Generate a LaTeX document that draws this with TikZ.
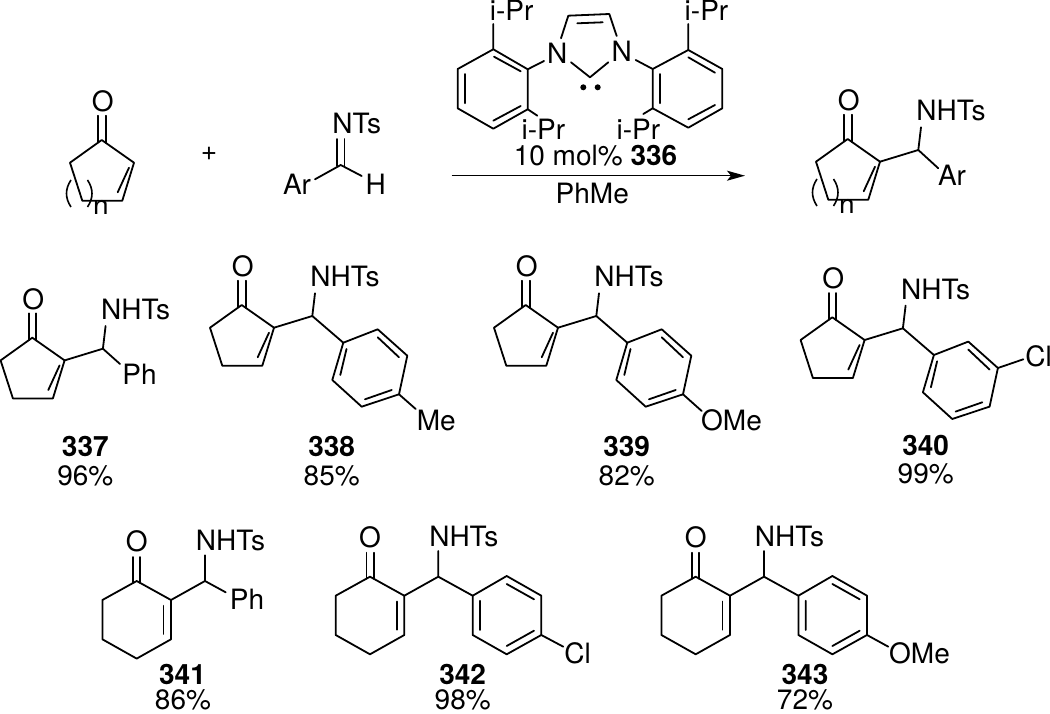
\documentclass[tikz,border=0pt]{standalone}
\usepackage{fontspec}
\setmainfont{TeX Gyre Heros}
\usetikzlibrary{arrows.meta}
\newcommand{\chemfont}{\fontsize{28}{30}\selectfont}
\tikzset{
  bond/.style={line width=1.8pt,line join=round,line cap=round},
  atom/.style={inner sep=0pt,outer sep=0pt,anchor=base,font=\chemfont},
  lonepair/.style={circle,fill=black,inner sep=0pt,minimum size=6pt},
}
% five-membered enone, local frame of 338
\newcommand{\fivering}{%
  \coordinate (c1) at (241.7,305);
  \coordinate (c2) at (274,327.7);
  \coordinate (c3) at (262.3,365.7);
  \coordinate (c4) at (222.3,365.7);
  \coordinate (c5) at (210,327.7);
  \coordinate (i1) at (269,332.7);
  \coordinate (i2) at (257.7,357.3);
  \node[atom] (o) at (242.7,276.5) {O};
  \draw[bond] (c1)--(c2)--(c3)--(c4)--(c5)--cycle;
  \draw[bond] (i1)--(i2);
  \draw[bond] (c1) ++(-3.4,2.4) -- ++(0,-26.7);
  \draw[bond] (c1) ++(4.0,2.8) -- ++(0,-27.1);
}
\newcommand{\fivechain}{%
  \coordinate (ch) at (312.3,316);
  \coordinate (ne) at (315,293.3);
  \node[atom] (nhts) at (345,286.7) {NHTs};
  \draw[bond] (c2)--(ch)--(ne);
}
% aryl ring of the cyclopentenone series
\newcommand{\fivearyl}{%
  \coordinate (a1) at (343.3,342.7);
  \coordinate (a2) at (377.7,329.3);
  \coordinate (a3) at (407.3,355.7);
  \coordinate (a4) at (399,394.3);
  \coordinate (a5) at (361.7,406.7);
  \coordinate (a6) at (332.3,380);
  \draw[bond] (ch)--(a1);
  \draw[bond] (a1)--(a2)--(a3)--(a4)--(a5)--(a6)--cycle;
  \coordinate (b1) at (346.5,349);
  \coordinate (b2) at (340.3,375);
  \coordinate (b3) at (377.7,337.3);
  \coordinate (b4) at (399,357.3);
  \coordinate (b5) at (365,399.3);
  \coordinate (b6) at (391.7,390);
  \draw[bond] (b1)--(b2) (b3)--(b4) (b5)--(b6);
}
\newcommand{\nloop}{%
  \coordinate (pa) at (211,345);
  \coordinate (pb) at (211,372);
  \coordinate (pc) at (227.5,345);
  \coordinate (pd) at (227.5,372);
  \draw[line width=1.6pt] (pa) .. controls (205,354) and (205,363) .. (pb);
  \draw[line width=1.6pt] (pc) .. controls (233.5,354) and (233.5,363) .. (pd);
  \begin{scope}
    \clip (225,360) rectangle (255,378.5);
    \node[atom] (nn) at (241,381) {n};
  \end{scope}
}
% six-membered enone, local frame of 342
\newcommand{\sixring}{%
  \coordinate (c1) at (370,576.7);
  \coordinate (c2) at (404.3,595.7);
  \coordinate (c3) at (404.3,635);
  \coordinate (c4) at (370,654.3);
  \coordinate (c5) at (335.7,635);
  \coordinate (c6) at (335.7,595.7);
  \coordinate (i1) at (396.7,601.5);
  \coordinate (i2) at (396.7,629.7);
  \node[atom] (o) at (370,547) {O};
  \draw[bond] (c1)--(c2)--(c3)--(c4)--(c5)--(c6)--cycle;
  \draw[bond] (i1)--(i2);
  \draw[bond] (c1) ++(-3.6,2) -- ++(0,-26);
  \draw[bond] (c1) ++(3.6,2) -- ++(0,-26);
}
\newcommand{\sixchain}{%
  \coordinate (ch) at (438.3,576.7);
  \coordinate (ne) at (438.3,551);
  \node[atom] (nhts) at (463.8,546) {NHTs};
  \draw[bond] (c2)--(ch)--(ne);
}
\newcommand{\sixaryl}{%
  \coordinate (a1) at (472.7,595.7);
  \coordinate (a2) at (506.7,576);
  \coordinate (a3) at (541.3,595.7);
  \coordinate (a4) at (541.3,635);
  \coordinate (a5) at (506.7,654.3);
  \coordinate (a6) at (472.7,635);
  \draw[bond] (ch)--(a1);
  \draw[bond] (a1)--(a2)--(a3)--(a4)--(a5)--(a6)--cycle;
  \coordinate (b1) at (480,600.7);
  \coordinate (b2) at (480,630);
  \coordinate (b3) at (506.7,584);
  \coordinate (b4) at (534,599.3);
  \coordinate (b5) at (506.7,646);
  \coordinate (b6) at (534,630.7);
  \draw[bond] (b1)--(b2) (b3)--(b4) (b5)--(b6);
}
\begin{document}
\begin{tikzpicture}[x=1pt,y=-1pt]
\useasboundingbox (0,0) rectangle (1050,714);

% starting enone
\begin{scope}[shift={(-140,-165)},name prefix=sm-]
  \fivering
  \nloop
\end{scope}

\node[atom] (plus) at (209,161) {+};

% imine
\coordinate (imc) at (340.7,165);
\coordinate (imar) at (315,179.3);
\coordinate (imh) at (361.7,176);
\node[atom] (imn) at (356.8,134) {NTs};
\node[atom] (ar1) at (297,194.3) {Ar};
\node[atom] (h1) at (375.7,194.3) {H};
\draw[bond] (imar)--(imc)--(imh);
\draw[bond] (imc) ++(-3.5,1) -- ++(0,-27);
\draw[bond] (imc) ++(3.8,1) -- ++(0,-27);

% catalyst 336
\coordinate (l1) at (527.7,69.3);
\coordinate (l2) at (493.3,49.3);
\coordinate (l3) at (457.7,69);
\coordinate (l4) at (457.7,108.3);
\coordinate (l5) at (493.3,128.7);
\coordinate (l6) at (527.7,109.3);
\draw[bond] (l1)--(l2)--(l3)--(l4)--(l5)--(l6)--cycle;
\coordinate (li1) at (494,56.7); \coordinate (li2) at (520.7,71.3);
\coordinate (li3) at (465,74); \coordinate (li4) at (465,103.3);
\coordinate (li5) at (493.3,120.7); \coordinate (li6) at (520.7,106);
\draw[bond] (li1)--(li2) (li3)--(li4) (li5)--(li6);
\coordinate (r1) at (652.7,69);
\coordinate (r2) at (688.3,50);
\coordinate (r3) at (722.3,69);
\coordinate (r4) at (722.3,108.3);
\coordinate (r5) at (688.3,127.7);
\coordinate (r6) at (652.7,108.3);
\draw[bond] (r1)--(r2)--(r3)--(r4)--(r5)--(r6)--cycle;
\coordinate (ri1) at (688.3,57.3); \coordinate (ri2) at (715,72.7);
\coordinate (ri3) at (660,74); \coordinate (ri4) at (660,103.3);
\coordinate (ri5) at (688.3,119.3); \coordinate (ri6) at (715,105);
\draw[bond] (ri1)--(ri2) (ri3)--(ri4) (ri5)--(ri6);
\node[atom] (nl) at (557.3,63.3) {N};
\node[atom] (nr) at (621.7,61.7) {N};
\node[atom] (ipr1) at (511.7,21) {i-Pr};
\node[atom] (ipr2) at (706.5,21) {i-Pr};
\node[atom] (ipr3) at (543.3,139.3) {i-Pr};
\node[atom] (ipr4) at (638.3,139.3) {i-Pr};
\coordinate (e1) at (493.3,24);
\coordinate (e2) at (688.3,24);
\coordinate (e3) at (537.3,115.7);
\coordinate (e4) at (643.3,114);
\draw[bond] (l2)--(e1) (r2)--(e2) (l6)--(e3) (r6)--(e4);
\coordinate (e5) at (544,61);
\coordinate (e6) at (635.7,60);
\draw[bond] (l1)--(e5) (r1)--(e6);
\coordinate (im1) at (561,38.3);
\coordinate (im2) at (568.3,15.7);
\coordinate (im3) at (609.3,14);
\coordinate (im4) at (616.7,36);
\coordinate (im5) at (571,62.3);
\coordinate (im6) at (590,77.3);
\coordinate (im7) at (608.3,62.3);
\coordinate (im8) at (577.3,23.3);
\coordinate (im9) at (602.7,22.3);
\draw[bond] (im1)--(im2)--(im3)--(im4);
\draw[bond] (im5)--(im6)--(im7);
\draw[bond] (im8)--(im9);
\node[lonepair] (lp1) at (583.3,87.3) {};
\node[lonepair] (lp2) at (597.7,87.3) {};

% conditions and arrow
\node[atom] (cond) at (595.5,165.7) {10 mol\% \textbf{336}};
\coordinate (ars) at (451.7,175.7);
\coordinate (are) at (745,175.7);
\draw[line width=1.6pt,-{Stealth[length=18pt,width=10pt,inset=4pt]}] (ars)--(are);
\node[atom] (solv) at (592.3,204) {PhMe};

% product
\begin{scope}[shift={(606,-166)},name prefix=pr-]
  \fivering
  \fivechain
  \coordinate (are) at (332.3,334.3);
  \node[atom] (ar) at (346,352) {Ar};
  \draw[bond] (ch)--(are);
  \nloop
\end{scope}

% 337
\begin{scope}[shift={(-209.4,32.7)},name prefix=a-]
  \fivering
  \fivechain
  \coordinate (phe) at (329.4,331.3);
  \node[atom] (ph) at (348.9,351.3) {Ph};
  \draw[bond] (ch)--(phe);
\end{scope}
\node[atom] (n337) at (85.3,456.5) {\textbf{337}};
\node[atom] (y337) at (85.3,485) {96\%};

% 338
\begin{scope}[name prefix=b-]
  \fivering
  \fivechain
  \fivearyl
  \coordinate (sub) at (415.7,409);
  \node[atom] (me) at (436.3,430.7) {Me};
  \draw[bond] (a4)--(sub);
\end{scope}
\node[atom] (n338) at (331.7,456.5) {\textbf{338}};
\node[atom] (y338) at (331.7,485) {85\%};

% 339
\begin{scope}[shift={(284,0)},name prefix=c-]
  \fivering
  \fivechain
  \fivearyl
  \coordinate (sub) at (417.7,411);
  \node[atom] (ome) at (447.5,430.7) {OMe};
  \draw[bond] (a4)--(sub);
\end{scope}
\node[atom] (n339) at (626.7,456.5) {\textbf{339}};
\node[atom] (y339) at (626.7,485) {82\%};

% 340
\begin{scope}[shift={(590.6,12.3)},name prefix=d-]
  \fivering
  \fivechain
  \fivearyl
  \coordinate (sub) at (432.7,347);
  \node[atom] (cl) at (448,353.7) {Cl};
  \draw[bond] (a3)--(sub);
\end{scope}
\node[atom] (n340) at (925.7,455) {\textbf{340}};
\node[atom] (y340) at (925.7,483.3) {99\%};

% 341
\begin{scope}[shift={(-233.3,4.3)},name prefix=e-]
  \sixring
  \sixchain
  \coordinate (phe) at (459,588);
  \node[atom] (ph) at (480.3,605) {Ph};
  \draw[bond] (ch)--(phe);
\end{scope}
\node[atom] (n341) at (182.5,684) {\textbf{341}};
\node[atom] (y341) at (183,709.8) {86\%};

% 342
\begin{scope}[name prefix=f-]
  \sixring
  \sixchain
  \sixaryl
  \coordinate (sub) at (563.3,646.7);
  \node[atom] (cl) at (577.5,663.3) {Cl};
  \draw[bond] (a4)--(sub);
\end{scope}
\node[atom] (n342) at (462.7,684) {\textbf{342}};
\node[atom] (y342) at (462.7,709.8) {98\%};

% 343
\begin{scope}[shift={(325.7,0)},name prefix=g-]
  \sixring
  \sixchain
  \sixaryl
  \coordinate (sub) at (562.6,646.7);
  \node[atom] (ome) at (593.8,663.3) {OMe};
  \draw[bond] (a4)--(sub);
\end{scope}
\node[atom] (n343) at (805,684) {\textbf{343}};
\node[atom] (y343) at (805,709.8) {72\%};
\end{tikzpicture}
\end{document}
